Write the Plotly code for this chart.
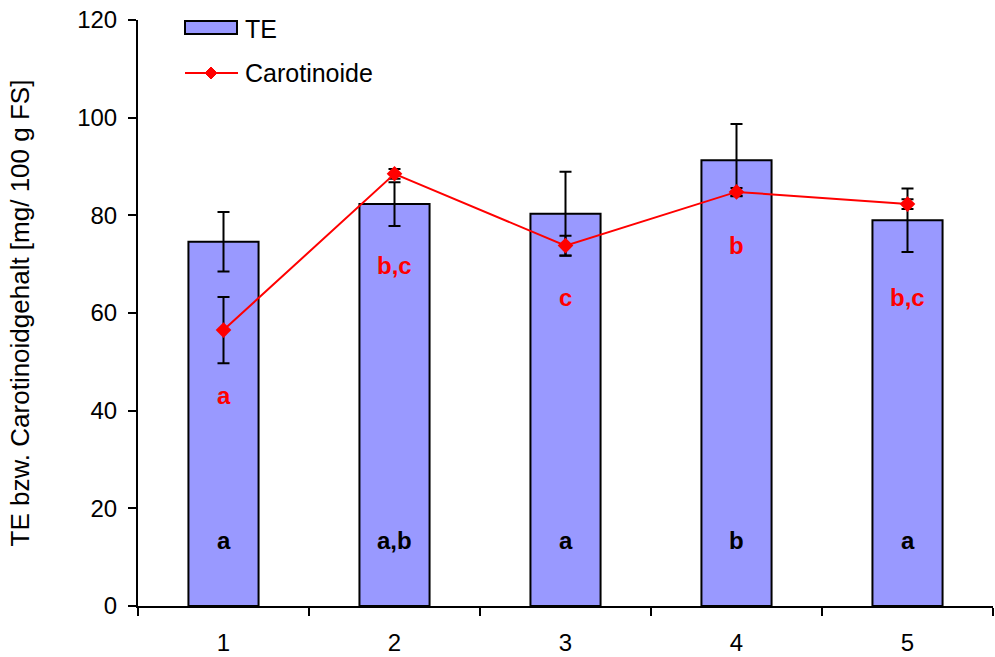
import plotly.graph_objects as go

# Mean values and standard deviations per sample
groups = [1, 2, 3, 4, 5]
te = [74.6, 82.3, 80.3, 91.3, 79.0]
te_err = [6.1, 4.5, 8.6, 7.4, 6.5]
carotinoide = [56.5, 88.5, 73.8, 84.8, 82.3]
carotinoide_err = [6.8, 1.0, 2.0, 0.8, 1.0]

# Significance letters
te_letters = ["a", "a,b", "a", "b", "a"]
car_letters = ["a", "b,c", "c", "b", "b,c"]

# Vertical placement of letter annotations (data units)
te_letter_y = 13.5
car_letter_y = [43.2, 69.8, 63.1, 73.9, 63.1]

FONT = "Liberation Sans, Arial, sans-serif"
W, H = 995, 657
L, R, T, B = 138, 2, 20, 51

fig = go.Figure()

fig.add_trace(go.Bar(
    x=groups, y=te, width=0.41,
    marker=dict(color="#9999FF", line=dict(color="black", width=2)),
    error_y=dict(type="data", array=te_err, color="black", thickness=2, width=6),
    name="TE", showlegend=False,
))

fig.add_trace(go.Scatter(
    x=groups, y=carotinoide, mode="lines+markers",
    line=dict(color="#FF0000", width=2),
    marker=dict(symbol="diamond", size=12, color="#FF0000"),
    error_y=dict(type="data", array=carotinoide_err, color="black", thickness=2, width=6),
    name="Carotinoide", showlegend=False,
))

for g, t in zip(groups, te_letters):
    fig.add_annotation(x=g, y=te_letter_y, text=f"<b>{t}</b>", showarrow=False,
                       font=dict(family=FONT, size=24, color="black"))
for g, t, yy in zip(groups, car_letters, car_letter_y):
    fig.add_annotation(x=g, y=yy, text=f"<b>{t}</b>", showarrow=False,
                       font=dict(family=FONT, size=24, color="#FF0000"))


def px_x(p):
    return (p - L) / (W - L - R)


def px_y(p):
    return (H - B - p) / (H - T - B)


# Legend drawn in paper coordinates
fig.add_shape(type="rect", xref="paper", yref="paper",
              x0=px_x(185), x1=px_x(237), y0=px_y(34), y1=px_y(21),
              fillcolor="#9999FF", line=dict(color="black", width=2))
fig.add_annotation(xref="paper", yref="paper", x=px_x(243), y=px_y(29),
                   xanchor="left", yanchor="middle", text="TE", showarrow=False,
                   font=dict(family=FONT, size=25, color="black"))
fig.add_shape(type="line", xref="paper", yref="paper",
              x0=px_x(185), x1=px_x(238), y0=px_y(73), y1=px_y(73),
              line=dict(color="#FF0000", width=2))
cx, cy, d = 211, 73, 6
fig.add_shape(type="path", xref="paper", yref="paper",
              path=f"M {px_x(cx - d)} {px_y(cy)} L {px_x(cx)} {px_y(cy - d)} "
                   f"L {px_x(cx + d)} {px_y(cy)} L {px_x(cx)} {px_y(cy + d)} Z",
              fillcolor="#FF0000", line=dict(color="#FF0000", width=1))
fig.add_annotation(xref="paper", yref="paper", x=px_x(243), y=px_y(73),
                   xanchor="left", yanchor="middle", text="Carotinoide", showarrow=False,
                   font=dict(family=FONT, size=25, color="black"))

fig.update_layout(
    width=W, height=H,
    margin=dict(l=L, r=R, t=T, b=B),
    plot_bgcolor="white", paper_bgcolor="white",
    font=dict(family=FONT, size=25, color="black"),
)
fig.update_xaxes(
    range=[0.5, 5.5], tickvals=groups, ticktext=[str(g) for g in groups],
    ticks="", showline=True, linecolor="black", linewidth=2,
    showgrid=False, zeroline=False, ticklabelstandoff=14,
    tickfont=dict(family=FONT, size=24),
    minor=dict(tick0=0.5, dtick=1, ticks="outside", ticklen=8,
               tickwidth=2, tickcolor="black", showgrid=False),
)
fig.update_yaxes(
    range=[0, 120], dtick=20, ticks="outside", ticklen=8, tickwidth=2,
    tickcolor="black", showline=True, linecolor="black", linewidth=2,
    showgrid=False, zeroline=False, ticklabelstandoff=6,
    tickfont=dict(family=FONT, size=24),
    title=dict(text="TE bzw. Carotinoidgehalt [mg/ 100 g FS]", standoff=40,
               font=dict(family=FONT, size=26)),
)

fig.write_html("out.html")
